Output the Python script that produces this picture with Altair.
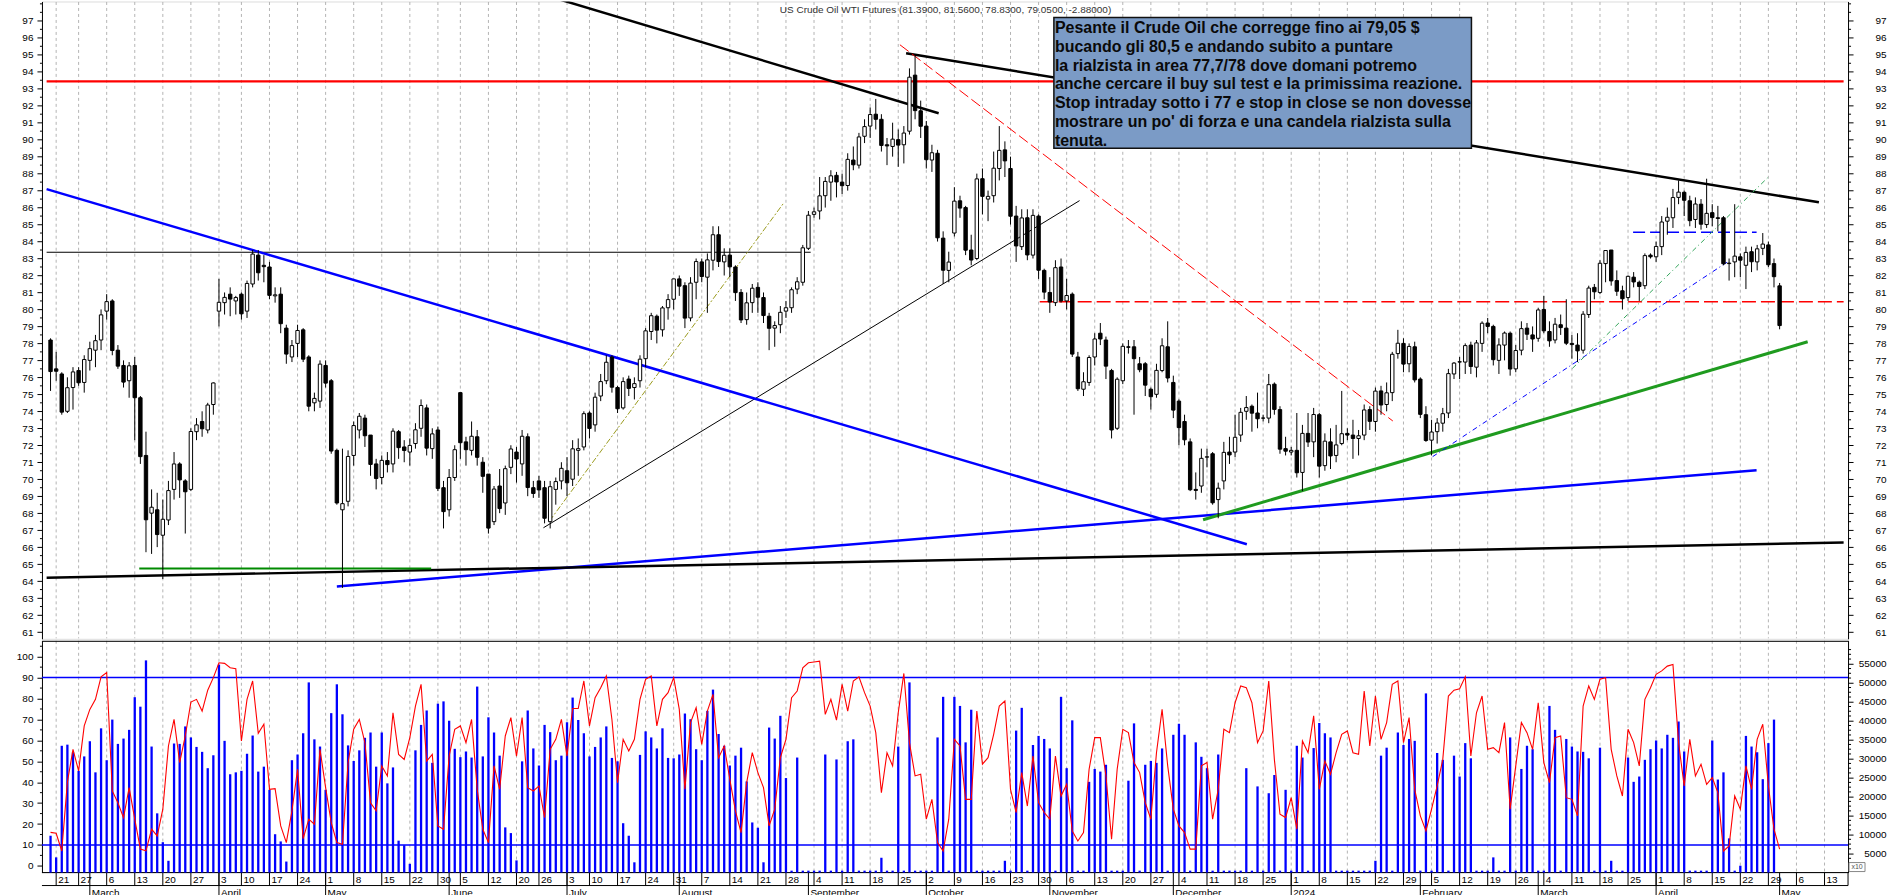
import altair as alt
import numpy as np
import pandas as pd

# ------------------------------------------------------------------
# Calendar: trading days shown by the chart (US holidays of 2023 skipped)
# ------------------------------------------------------------------
HOLIDAYS = ["2023-02-20", "2023-04-07", "2023-05-29", "2023-06-19", "2023-07-04"]
FIRST_DAY, AXIS_END_DAY = "2023-02-17", "2024-05-17"

# ------------------------------------------------------------------
# Daily candles (Feb 17 2023 -> May 1 2024)
# ------------------------------------------------------------------
opens = [
    78.2, 76.5, 76.2, 74.0, 75.4, 76.4, 75.7, 77.0, 77.6, 78.2,
    79.9, 80.5, 77.6, 76.7, 75.8, 76.7, 74.8, 71.4, 68.0, 68.2,
    66.7, 67.6, 69.4, 70.9, 69.9, 69.4, 72.8, 73.4, 72.9, 74.4,
    79.9, 80.4, 80.9, 80.5, 80.9, 79.9, 81.5, 83.2, 82.6, 82.5,
    80.8, 80.9, 78.9, 77.2, 78.0, 78.8, 77.2, 74.5, 74.6, 76.7,
    75.8, 71.7, 68.2, 68.7, 71.4, 72.9, 73.6, 72.6, 70.9, 70.1,
    71.1, 70.9, 72.8, 71.9, 71.6, 72.1, 73.0, 74.2, 71.8, 72.9,
    69.5, 68.2, 70.1, 75.1, 72.2, 71.7, 72.5, 71.0, 70.3, 67.5,
    69.6, 68.6, 70.7, 71.6, 70.9, 72.5, 69.5, 69.9, 69.5, 67.5,
    69.4, 69.9, 70.5, 70.0, 71.7, 71.9, 73.9, 73.2, 74.9, 75.8,
    77.2, 75.4, 74.2, 75.9, 75.4, 75.8, 77.1, 78.7, 79.6, 78.8,
    80.1, 80.6, 81.8, 81.4, 79.5, 81.6, 82.8, 81.9, 82.9, 84.4,
    82.8, 83.2, 82.5, 81.0, 79.4, 80.4, 81.3, 80.7, 79.6, 78.9,
    79.1, 79.9, 80.1, 81.2, 81.6, 83.6, 85.6, 85.8, 86.7, 87.5,
    87.9, 87.5, 87.3, 88.8, 88.5, 90.2, 90.8, 91.5, 91.2, 89.7,
    89.6, 90.0, 89.7, 90.5, 93.8, 91.7, 90.8, 88.8, 89.2, 84.2,
    82.3, 84.5, 86.4, 86.0, 83.5, 83.0, 87.7, 86.5, 86.7, 88.3,
    89.4, 88.3, 85.5, 83.7, 85.4, 83.2, 85.5, 82.3, 81.0, 80.4,
    82.5, 80.5, 80.9, 77.2, 75.3, 75.7, 77.2, 78.6, 78.2, 76.4,
    73.0, 75.8, 77.8, 77.8, 76.8, 76.8, 75.3, 75.0, 76.4, 77.8,
    75.7, 74.6, 73.4, 72.2, 69.4, 69.6, 71.3, 71.5, 68.8, 69.9,
    71.6, 71.6, 72.6, 74.0, 74.3, 73.9, 73.6, 73.6, 75.6, 74.1,
    71.8, 71.6, 71.7, 70.4, 72.7, 72.2, 73.8, 70.8, 72.2, 71.4,
    72.1, 72.7, 72.6, 72.4, 72.6, 74.1, 73.4, 75.2, 74.4, 75.1,
    77.4, 78.0, 76.8, 77.8, 75.9, 73.8, 72.3, 72.8, 73.3, 73.9,
    76.2, 76.9, 76.9, 77.9, 76.6, 78.0, 79.2, 79.0, 77.0, 77.9,
    78.6, 76.5, 77.6, 78.9, 78.5, 78.3, 80.0, 78.7, 78.2, 79.1,
    78.9, 78.0, 77.9, 77.6, 79.7, 81.3, 81.0, 82.7, 83.5, 81.7,
    81.1, 80.7, 81.9, 81.6, 81.4, 83.2, 83.1, 83.7, 85.2, 85.4,
    86.6, 86.9, 86.4, 85.3, 86.2, 85.0, 85.7, 85.4, 85.4, 82.7,
    82.8, 83.1, 82.6, 83.4, 82.8, 83.6, 83.8, 82.7, 81.39,
]
highs = [
    78.3, 77.5, 76.3, 76.0, 76.6, 76.6, 77.3, 78.1, 78.5, 80.0,
    80.9, 80.6, 77.9, 77.0, 76.9, 77.2, 74.9, 72.8, 69.4, 69.2,
    68.8, 69.9, 71.6, 71.0, 70.0, 73.0, 73.6, 74.0, 74.5, 75.7,
    81.8, 81.0, 81.3, 80.8, 81.0, 81.7, 83.5, 83.5, 83.2, 82.8,
    81.3, 81.3, 79.1, 78.2, 79.1, 78.9, 77.3, 75.1, 77.0, 77.0,
    75.9, 71.8, 71.8, 71.7, 73.4, 73.9, 73.8, 72.6, 71.2, 71.4,
    71.6, 73.0, 72.9, 72.3, 72.4, 73.3, 74.7, 74.4, 73.0, 73.1,
    69.9, 70.6, 72.0, 75.1, 72.5, 73.4, 72.9, 71.3, 70.3, 69.6,
    70.6, 70.8, 72.0, 71.9, 72.9, 72.7, 69.9, 70.2, 69.9, 69.9,
    70.1, 71.0, 71.3, 72.3, 72.4, 74.0, 74.0, 75.1, 76.2, 77.3,
    77.3, 75.5, 76.0, 76.1, 76.0, 77.3, 78.9, 79.8, 79.7, 80.2,
    80.9, 81.8, 82.0, 81.6, 81.9, 83.0, 83.0, 83.3, 84.9, 84.9,
    83.6, 83.6, 82.6, 81.2, 81.0, 81.5, 81.6, 81.0, 79.8, 79.3,
    80.2, 80.5, 81.3, 81.9, 83.8, 85.8, 86.0, 87.8, 87.8, 88.2,
    88.1, 88.0, 89.2, 89.6, 90.4, 91.2, 91.9, 92.4, 91.5, 90.1,
    91.0, 90.6, 90.8, 94.2, 95.03, 92.3, 91.1, 89.7, 89.4, 84.6,
    83.4, 87.2, 86.7, 86.1, 84.4, 88.0, 88.3, 87.0, 89.3, 90.8,
    89.9, 89.0, 86.1, 85.9, 85.9, 85.9, 85.6, 82.4, 81.9, 82.9,
    83.0, 81.8, 81.0, 77.5, 76.3, 77.3, 78.6, 79.2, 78.4, 76.5,
    76.0, 78.0, 78.2, 78.2, 77.2, 76.9, 75.4, 76.8, 78.3, 79.3,
    76.1, 74.7, 73.8, 72.4, 70.4, 71.8, 71.8, 71.6, 69.8, 72.2,
    72.5, 73.8, 74.2, 74.9, 74.4, 75.1, 73.8, 76.2, 75.7, 74.3,
    72.5, 71.9, 73.9, 73.2, 73.9, 74.2, 73.9, 72.7, 73.0, 73.2,
    75.2, 73.0, 73.5, 72.9, 74.4, 74.3, 75.4, 75.5, 75.7, 77.5,
    78.8, 78.3, 78.0, 78.1, 76.0, 74.3, 73.5, 73.6, 74.2, 76.5,
    76.9, 77.2, 78.0, 78.1, 78.2, 79.3, 79.5, 79.1, 78.3, 78.7,
    78.7, 77.9, 79.3, 79.2, 79.0, 80.1, 80.8, 79.3, 79.5, 79.7,
    80.6, 78.5, 78.6, 79.9, 81.4, 81.5, 82.9, 83.5, 83.5, 82.3,
    81.4, 82.0, 82.2, 81.7, 83.3, 83.3, 84.0, 85.5, 86.0, 87.1,
    87.6, 87.0, 86.7, 86.6, 86.5, 87.7, 86.2, 86.1, 85.5, 83.0,
    86.2, 83.3, 83.7, 83.7, 83.8, 84.5, 84.0, 83.0, 81.56,
]
lows = [
    75.2, 75.8, 73.8, 73.9, 74.1, 75.5, 75.1, 76.4, 76.6, 77.6,
    79.4, 77.3, 76.5, 75.4, 74.8, 72.3, 70.9, 65.7, 65.6, 66.0,
    64.12, 67.3, 68.8, 68.9, 66.8, 69.3, 72.3, 72.5, 72.7, 73.8,
    79.0, 79.7, 79.6, 79.7, 79.4, 79.5, 81.3, 81.7, 81.6, 80.6,
    80.4, 78.6, 76.8, 76.9, 77.2, 76.9, 74.0, 74.0, 74.2, 75.4,
    71.5, 68.5, 63.6, 68.4, 70.8, 72.4, 71.9, 70.2, 69.4, 69.7,
    70.4, 70.4, 71.2, 71.0, 70.8, 71.8, 72.5, 71.4, 71.2, 69.3,
    67.1, 67.8, 69.9, 71.2, 70.8, 71.4, 70.8, 69.2, 66.8, 67.3,
    68.0, 67.9, 70.3, 69.8, 70.2, 69.0, 68.9, 68.9, 67.4, 67.1,
    68.5, 69.4, 69.0, 69.6, 70.2, 71.7, 72.4, 72.8, 74.6, 75.6,
    75.1, 73.9, 74.1, 74.9, 74.7, 75.4, 76.6, 78.2, 78.0, 78.4,
    79.4, 80.0, 80.8, 78.9, 79.3, 80.6, 81.6, 79.8, 82.3, 82.5,
    82.0, 81.9, 80.5, 79.2, 79.1, 79.8, 79.8, 79.2, 77.6, 77.8,
    78.6, 79.5, 79.8, 80.9, 81.4, 83.5, 85.4, 85.3, 86.0, 86.4,
    86.6, 86.8, 87.0, 88.2, 88.3, 89.8, 90.1, 90.6, 89.3, 88.5,
    89.0, 88.4, 88.6, 90.3, 91.2, 90.1, 88.3, 88.1, 84.0, 81.5,
    81.6, 84.3, 85.4, 83.2, 82.6, 82.9, 85.6, 85.2, 86.3, 87.6,
    87.8, 85.0, 82.8, 83.5, 82.9, 83.0, 81.8, 80.6, 79.8, 80.2,
    80.4, 80.0, 77.2, 75.2, 74.9, 75.5, 76.7, 77.9, 75.9, 72.4,
    72.9, 75.6, 77.4, 73.8, 76.3, 74.9, 74.1, 74.8, 76.3, 75.7,
    73.6, 72.0, 72.0, 69.3, 68.8, 69.2, 70.7, 68.5, 67.7, 69.4,
    70.9, 71.3, 72.2, 73.5, 72.8, 73.0, 73.4, 73.3, 73.8, 71.5,
    71.4, 71.4, 70.1, 69.3, 71.9, 71.3, 70.1, 70.5, 70.6, 71.0,
    72.0, 72.3, 71.2, 71.4, 72.3, 72.9, 72.8, 73.8, 74.0, 74.6,
    77.1, 76.3, 76.3, 75.7, 73.6, 72.2, 71.4, 72.1, 72.8, 73.6,
    75.9, 75.9, 76.2, 76.2, 76.0, 77.5, 78.6, 76.7, 76.2, 77.0,
    76.1, 76.3, 77.3, 78.2, 77.5, 78.1, 78.6, 77.8, 78.0, 78.5,
    77.9, 77.1, 76.9, 77.4, 79.5, 80.6, 80.9, 81.6, 81.4, 80.8,
    80.0, 80.5, 81.3, 80.5, 81.2, 83.0, 82.8, 83.2, 84.4, 84.8,
    86.2, 85.5, 84.9, 84.8, 84.7, 84.8, 84.9, 84.6, 82.6, 81.7,
    81.9, 81.9, 81.2, 82.2, 82.3, 83.2, 82.5, 81.3, 78.83,
]
closes = [
    76.34, 76.36, 73.95, 75.39, 76.32, 75.68, 77.05, 77.69, 78.16, 79.68,
    80.46, 77.58, 76.66, 75.72, 76.68, 74.80, 71.33, 67.61, 68.35, 66.74,
    67.64, 69.33, 70.90, 69.96, 69.26, 72.81, 73.20, 72.97, 74.37, 75.67,
    80.42, 80.71, 80.61, 80.70, 79.74, 81.53, 83.26, 82.16, 82.52, 80.83,
    80.86, 79.16, 77.37, 77.87, 78.76, 77.07, 74.30, 74.76, 76.78, 75.66,
    71.66, 68.60, 68.56, 71.34, 73.16, 73.71, 72.56, 70.87, 70.04, 71.11,
    70.86, 72.83, 71.86, 71.69, 71.99, 72.91, 74.34, 71.83, 72.67, 69.46,
    68.09, 70.10, 71.74, 72.15, 71.74, 72.53, 71.29, 70.17, 67.12, 69.42,
    68.27, 70.62, 71.78, 71.19, 72.53, 69.51, 69.16, 69.37, 67.70, 69.56,
    69.86, 70.64, 69.79, 71.79, 71.80, 73.86, 72.99, 74.83, 75.75, 76.89,
    75.42, 74.15, 75.75, 75.35, 75.63, 77.07, 78.74, 79.63, 78.78, 80.09,
    80.58, 81.80, 81.37, 79.49, 81.55, 82.82, 81.94, 82.92, 84.40, 82.82,
    83.19, 82.51, 80.99, 79.38, 80.39, 81.25, 80.72, 79.64, 78.89, 79.05,
    79.83, 80.10, 81.16, 81.63, 83.63, 85.55, 85.75, 86.69, 87.54, 87.87,
    87.51, 87.29, 88.84, 88.52, 90.16, 90.77, 91.48, 91.20, 89.66, 89.63,
    90.03, 89.68, 90.39, 93.68, 91.71, 90.79, 88.82, 89.23, 84.22, 82.31,
    82.79, 86.38, 85.97, 83.49, 82.91, 87.69, 86.66, 86.66, 88.32, 89.37,
    88.75, 85.49, 83.74, 85.39, 83.21, 85.54, 82.31, 81.02, 80.44, 82.46,
    80.51, 80.82, 77.37, 75.33, 75.74, 77.17, 78.26, 78.26, 76.66, 72.90,
    75.89, 77.83, 77.77, 77.10, 76.45, 75.54, 74.86, 76.41, 77.86, 75.96,
    74.07, 73.04, 72.32, 69.38, 69.34, 71.23, 71.32, 68.61, 69.47, 71.58,
    71.43, 72.47, 73.94, 74.22, 73.89, 73.56, 73.60, 75.57, 74.11, 71.77,
    71.65, 71.70, 70.38, 72.70, 72.19, 73.81, 70.77, 72.24, 71.37, 72.02,
    72.68, 72.60, 72.40, 72.56, 74.08, 73.41, 75.19, 74.37, 75.09, 77.36,
    78.01, 76.78, 77.82, 75.85, 73.82, 72.28, 72.78, 73.31, 73.86, 76.22,
    76.84, 76.92, 77.87, 76.64, 78.03, 79.19, 79.00, 77.04, 77.91, 78.61,
    76.49, 77.58, 78.87, 78.54, 78.26, 79.97, 78.74, 78.15, 79.13, 78.93,
    78.01, 77.93, 77.56, 79.72, 81.26, 81.04, 82.72, 83.47, 81.68, 81.07,
    80.63, 81.95, 81.62, 81.35, 83.17, 83.10, 83.71, 85.15, 85.43, 86.59,
    86.91, 86.43, 85.23, 86.21, 85.02, 85.66, 85.41, 85.36, 82.69, 82.73,
    83.14, 82.90, 83.36, 82.81, 83.57, 83.85, 82.63, 81.93, 79.05,
]

# Oscillator (red line, left 0-100 scale of the lower panel)
osc = [
    16, 15.6, 7.1, 40, 55.7, 45.4, 66.9, 74.8, 79.6, 90.4,
    92.4, 35.8, 30.2, 23, 37.4, 22.3, 8, 7.2, 17.5, 14.3,
    27.1, 57.3, 70, 49.4, 62.1, 78.3, 79.6, 74, 84, 90,
    97.1, 96.8, 94.7, 94.3, 59.7, 79.6, 88.4, 63.4, 67.7, 36.6,
    36.9, 19.1, 11.1, 26.3, 46.2, 13.0, 22.3, 19.9, 55.7, 37.4,
    20.7, 11.1, 10.3, 49.4, 65.3, 70, 58.9, 30.2, 26.3, 47.8,
    43, 73.2, 53.3, 50.9, 61.3, 76.4, 86.8, 50.1, 53.3, 19.1,
    17.5, 52.5, 65.3, 66.9, 58.9, 70, 36.6, 17.5, 11.1, 47.8,
    36.6, 62.1, 70.9, 52.5, 70.9, 37.4, 35.8, 38.2, 23.1, 55.7,
    60.5, 70, 52.5, 75.2, 75.2, 88.4, 66.9, 80.4, 85.2, 90.8,
    70, 39.8,
    60.5, 54.9, 60.5, 79.6, 89.2, 90.8, 66.9, 79.6, 82.8, 90,
    74.8, 36.6, 68.5, 75.6, 58.1, 74, 82, 51.7, 57.3, 41.4,
    26.3, 15.9, 39.8, 54.1, 44.6, 37.4, 19.1, 27.1, 51.7, 60.5,
    80.4, 83.6, 94.7, 97.1, 97.5, 97.9,
    72.4, 79.6, 69.7, 86.8, 74, 88.4, 90.4, 82.8, 76.4, 63.7,
    35, 54.1, 47.8, 73.2, 92, 58.9, 43, 43.8, 22.3, 31.8,
    11.1, 7.1, 22.3, 60.5, 57.3, 31.8, 31.8, 74, 48.6, 51.7,
    62.9, 76.4, 78.8, 36.6, 25.5, 44.6, 28.6, 52.5, 30.2, 25.5,
    22.3, 52.5, 33.4, 39, 16.7, 11.9, 15.9, 46.2, 61.3, 61.3,
    43, 12.7, 46.2, 65.3, 63.7, 49.4, 44.6, 30.2, 22.3, 54.1,
    74.8, 47.8, 27.1, 19.1, 15.9, 8, 8, 47.8, 49.4, 22.3,
    36.6, 65.3, 63.7, 78, 86,
    85.2, 78, 58.9, 64.5, 88.4, 50.9, 24.7, 23.1, 32.6, 17.5,
    59.7, 54.1, 71.7, 36.6, 50.1, 43.8, 54.1, 62.9, 64.5, 54.1,
    53.3, 83.6, 57.3, 81.2, 60.5, 68.5, 86.8, 88.4, 58.9, 70.9,
    36.6, 23.9, 16.7, 27.1, 38.2, 50.9, 81.2, 84, 84.7, 90.4,
    52.5, 73.2, 81.2, 55.7, 56.5, 54.1, 68.5, 27.1, 47.8, 68.5,
    63.7, 55.7, 78, 49.4, 39.8, 61.3, 62.1, 32.6, 31.8, 23.9,
    76.4, 86, 79.6, 89.2, 90, 55.7, 43, 33.4, 65.3, 58.9,
    47.8, 79.6, 85.2, 91.6, 93.2, 95.5, 96.3, 58.9, 38.2, 60.5,
    43, 48.6, 39, 42.2, 35, 7.1, 9.5, 33.4, 27.1, 47.8,
    36.6, 60.5, 67.7, 38.2, 17.5, 8,
]

# Volume bars (right scale of the lower panel); S = the tiny stubs
S = 500
volume = [
    9700, 4000, 33400, 33700, 31700, 26800, 30600, 34600, 26400, 38000,
    29600, 40300, 33900, 35300, 37600, 46200, 43700, 55900, 33200, 15600,
    8000, 3100, 34000, 33900, 38500, 35600, 33100, 31800, 27500, 30900,
    54800, 34700, 25900, 26400, 26800, 31300, 36100, 26600, 27900, 21800,
    10100, 8200, 2900, 29600, 31100, 36700, 50100, 35100, 33200, 21800,
    42000, 49600, 41700, 33500, 29400, 32200, 35500, 36900, 27900, 36900,
    23500, 27700, 8400, 7200, 2300, 32200, 38900, 42700, 28900, 44500,
    45100, 40000, 32600, 30400, 31900, 30300, 49000, 30600, 40900, 36900,
    30800, 11900, 10400, 3200, 29300, 42700, 32700, 28200, 38900, 37000,
    29600, 30800, 39600, 46100, 40200, 36700, 30600, 33100, 35600, 38500,
    30200, 29300, 13000,
    9700, 2700, 31000, 37200, 35600, 32700, 38000, 30200, 30100, 31100,
    41900, 40400, 32500, 29600, 42600, 48200, 36500, 33400, 28200, 30800,
    32900, 24000, 13200, 11800, 2700, 38200, 35300, 41300, 24900, S,
    30300, S, S, S, S, 31100, S, 29800, S, 34600,
    35100, S, S, S, S, 3900, S, S, 33200, S,
    50100, S, S, S, S, 35600, 46300, S, 46300, 43900,
    34300, 42900, S, S, S, S, S, 3100, S, 37400,
    43400, S, 33600, 36000, 35200, 32700, S, 46300, 27500, 40100,
    S, S, 23900, 27300, 26600, 28400, S, S, S, 24200,
    39300, S, 28400, 29400, 28900, 32700, S, 36300, 39200, 36300,
    S, 34300, 30500, 27500, S, 31100, S, S, S, S,
    27500, S, 22700, S, 20900, 25700, S, 21800, S, 33400,
    30300, S, 32800, 39400, 36700, 35600, S, S, S, S,
    S, S, S, 3100, 30800, 32900, S, 36900, 33600, 35200,
    34700, S, 47200, S, 31500, 29700, S, 30800, 25300, 34100,
    30100, S, S, S, 4000, S, S, 35600, S, 27300,
    33400, 32500, S, S, 43900, 37600, S, 35200, 33200, 31900,
    31800, 30100, S, 32900, S, 3100, S, S, 30300, 23900,
    25300, 29700, 32500, 34800, 32700, 36300, 35500, 39800, 31900, S,
    S, S, S, 34800, 24500, 26400, 9000, S, 1800, 36000,
    33200, 31700, 24600, 34100, 40300, 0,
]

# Drawn studies: (idx1, price1, idx2, price2)
TREND_PTS = [
    (-0.7, 93.43, 319.4, 93.43),
    (85.0, 98.82, 158.2, 91.56),
    (152.4, 95.09, 315.0, 86.31),
    (-0.7, 83.37, 135.4, 83.37),
    (87.8, 67.14, 183.3, 86.41),
    (88.9, 67.55, 130.6, 86.27),
    (-0.7, 87.09, 213.1, 66.17),
    (51.0, 63.68, 303.9, 70.53),
    (-0.7, 64.20, 319.4, 66.27),
    (15.8, 64.74, 67.8, 64.74),
    (205.3, 67.61, 313.0, 78.10),
    (151.3, 95.59, 239.1, 73.43),
    (176.2, 80.45, 319.4, 80.45),
    (281.9, 84.55, 303.9, 84.55),
    (246.2, 71.33, 298.9, 82.84),
    (271.1, 76.53, 306.0, 87.80),
]
TREND_STYLE = [
    ("#ff0000", 2.2, None),
    ("#000000", 2.5, None),
    ("#000000", 2.5, None),
    ("#000000", 1.2, None),
    ("#000000", 1.0, None),
    ("#9b9b1e", 1.0, [6, 2, 2, 2]),
    ("#0000ff", 2.5, None),
    ("#0000ff", 2.5, None),
    ("#000000", 2.5, None),
    ("#008a00", 2.2, None),
    ("#1f9b1f", 3.0, None),
    ("#ff0000", 1.0, [11, 4]),
    ("#ff0000", 1.5, [14, 5]),
    ("#0000ff", 1.5, [12, 5]),
    ("#0000ff", 1.0, [5, 3, 1, 3]),
    ("#33a55a", 1.0, [5, 3, 1, 3]),
]
OSC_LEVELS = [90, 10]

TITLE = "US Crude Oil WTI Futures (81.3900, 81.5600, 78.8300, 79.0500, -2.88000)"
NOTE = ("Pesante il Crude Oil che corregge fino ai 79,05 $\n"
        "bucando gli 80,5 e andando subito a puntare\n"
        "la rialzista in area 77,7/78 dove domani potremo\n"
        "anche cercare il buy sul test e la primissima reazione.\n"
        "Stop intraday sotto i 77 e stop in close se non dovesse\n"
        "mostrare un po' di forza e una candela rialzista sulla\n"
        "tenuta.")

N = len(closes)
assert len(opens) == N == len(highs) == len(lows) == len(osc) == len(volume) == 309, (
    len(opens), len(highs), len(lows), len(closes), len(osc), len(volume))

# ------------------------------------------------------------------
# Layout constants
# ------------------------------------------------------------------
W, H1, H2 = 1808, 638, 232
FONT = "Liberation Sans"
XDOM = [-0.64, 319.3]
PDOM = [60.6, 98.14]
ODOM = [-3.2, 107.6]
VDOM = [0, 61060]


def sc(dom):
    return alt.Scale(domain=dom, nice=False, zero=False)


# calendar-derived tick positions
days = pd.bdate_range(FIRST_DAY, AXIS_END_DAY)
days = days[~days.isin(pd.to_datetime(HOLIDAYS))]
cal = pd.DataFrame({"date": days, "idx": np.arange(len(days))})
cal["week"] = cal["date"] - pd.to_timedelta(cal["date"].dt.weekday, unit="D")
wk = cal.groupby("week", as_index=False).first()
wk = wk[(wk["idx"] > 0) & (wk["idx"] <= 319)]
weeks = pd.DataFrame({"idx": wk["idx"].values,
                      "lbl": wk["date"].dt.day.astype(str).values})
cal["ym"] = cal["date"].dt.year * 100 + cal["date"].dt.month
mo = cal.groupby("ym", as_index=False).first()
mo = mo[(mo["idx"] > 0) & (mo["idx"] <= 319)]
months = pd.DataFrame({
    "idx": mo["idx"].values,
    "lbl": [str(d.year) if d.month == 1 else d.strftime("%B") for d in mo["date"]],
})

cdf = pd.DataFrame({"idx": np.arange(N), "open": opens, "high": highs,
                    "low": lows, "close": closes, "osc": osc, "vol": volume})
one = pd.DataFrame({"a": [0]})


def xq(field="idx"):
    return alt.X(f"{field}:Q", scale=sc(XDOM), axis=None)


def yq(field, dom, axis=None):
    return alt.Y(f"{field}:Q", scale=sc(dom), axis=axis)


axis_common = dict(title=None, grid=False, labelFont=FONT, labelFontSize=10,
                   labelColor="black", domainColor="black", tickColor="black",
                   tickSize=5, labelOverlap=False, labelFlush=False,
                   minExtent=41, maxExtent=41, domainWidth=1, tickWidth=1)
left_price_axis = alt.Axis(orient="left", values=list(range(61, 98)),
                           labelPadding=4, labelAlign="right", **axis_common)
right_price_axis = alt.Axis(orient="right", values=list(range(61, 98)),
                            labelPadding=33, labelAlign="right", **axis_common)
left_osc_axis = alt.Axis(orient="left", values=list(range(0, 101, 10)),
                         labelPadding=4, labelAlign="right", **axis_common)
right_vol_axis = alt.Axis(orient="right", values=list(range(5000, 55001, 5000)),
                          format="d", labelPadding=33, labelAlign="right",
                          **axis_common)

# ------------------------------------------------------------------
# Price panel (flat layer, each layer with its own identical y scale)
# ------------------------------------------------------------------
grid1 = alt.Chart(weeks).mark_rule(color="#b4b4b4", strokeDash=[3, 3]).encode(
    x=xq(), y=alt.value(0.5), y2=alt.value(H1 - 0.5))

# invisible carriers for the two price axes
axis_df = pd.DataFrame({"v": [PDOM[0] + 1, PDOM[1] - 1]})
left_carrier = alt.Chart(axis_df).mark_point(opacity=0).encode(
    x=alt.value(0), y=yq("v", PDOM, left_price_axis))
right_carrier = alt.Chart(axis_df).mark_point(opacity=0).encode(
    x=alt.value(0), y=yq("v", PDOM, right_price_axis))

trend_layers = []
for (x1, y1, x2, y2), (col, sw, dash) in zip(TREND_PTS, TREND_STYLE):
    df = pd.DataFrame({"x": [x1, x2], "y": [y1, y2]})
    kw = dict(color=col, strokeWidth=sw, clip=True)
    if dash:
        kw["strokeDash"] = dash
    trend_layers.append(alt.Chart(df).mark_line(**kw).encode(
        x=xq("x"), y=yq("y", PDOM)))

wicks = alt.Chart(cdf).mark_rule(color="black", strokeWidth=1).encode(
    x=xq(), y=yq("low", PDOM), y2="high:Q")
bodies = alt.Chart(cdf).mark_bar(size=3.4, stroke="black", strokeWidth=1).encode(
    x=xq(), y=yq("open", PDOM), y2="close:Q",
    fill=alt.condition("datum.close >= datum.open", alt.value("white"), alt.value("black")))

minor_p = pd.DataFrame({"v": [v for v in np.arange(61, 98.01, 0.5)
                              if not (float(v).is_integer() and v <= 97)]})
minor_pl = alt.Chart(minor_p).mark_rule(color="black").encode(
    x=alt.value(-2), x2=alt.value(0), y=yq("v", PDOM))
minor_pr = alt.Chart(minor_p).mark_rule(color="black").encode(
    x=alt.value(W), x2=alt.value(W + 3), y=yq("v", PDOM))

box = alt.Chart(one).mark_rect(fill="#7b9bc6", stroke="#111111", strokeWidth=1.5).encode(
    x=alt.value(1013), x2=alt.value(1431), y=alt.value(16), y2=alt.value(147))
box_text = alt.Chart(one).mark_text(
    align="left", baseline="top", font=FONT, fontSize=16, fontWeight="bold",
    lineHeight=18.8, color="#0a0a0a", lineBreak="\n").encode(
    x=alt.value(1014), y=alt.value(18.6), text=alt.value(NOTE))
title = alt.Chart(one).mark_text(
    align="center", baseline="middle", font=FONT, fontSize=10, color="#333333").encode(
    x=alt.value(904.5), y=alt.value(9), text=alt.value(TITLE))

price = alt.layer(left_carrier, right_carrier, grid1, *trend_layers, wicks, bodies,
                  minor_pl, minor_pr, box, box_text, title).resolve_scale(
    y="independent").properties(width=W, height=H1)

# ------------------------------------------------------------------
# Lower panel (oscillator + volume) and date rows
# ------------------------------------------------------------------
osc_axis_df = pd.DataFrame({"v": [0, 100]})
vol_axis_df = pd.DataFrame({"v": [5000, 55000]})
osc_carrier = alt.Chart(osc_axis_df).mark_point(opacity=0).encode(
    x=alt.value(0), y=yq("v", ODOM, left_osc_axis))
vol_carrier = alt.Chart(vol_axis_df).mark_point(opacity=0).encode(
    x=alt.value(0), y=yq("v", VDOM, right_vol_axis))

grid2 = alt.Chart(weeks).mark_rule(color="#b4b4b4", strokeDash=[3, 3]).encode(
    x=xq(), y=alt.value(0), y2=alt.value(H2))
lv = alt.Chart(pd.DataFrame({"v": OSC_LEVELS})).mark_rule(color="#0000ff", strokeWidth=1.5).encode(
    x=alt.value(0), x2=alt.value(W), y=yq("v", ODOM))
minor_o = alt.Chart(pd.DataFrame({"v": list(range(5, 106, 10))})).mark_rule(color="black").encode(
    x=alt.value(-2), x2=alt.value(0), y=yq("v", ODOM))
top_border = alt.Chart(one).mark_rule(color="black").encode(
    x=alt.value(0), x2=alt.value(W + 1), y=alt.value(0.5))
row1 = alt.Chart(one).mark_rule(color="black").encode(
    x=alt.value(0), x2=alt.value(W), y=alt.value(H2))
row2 = alt.Chart(one).mark_rule(color="black").encode(
    x=alt.value(0), x2=alt.value(W), y=alt.value(H2 + 13))
row_end = alt.Chart(one).mark_rule(color="black").encode(
    x=alt.value(W), y=alt.value(H2), y2=alt.value(H2 + 13))
wk_ticks = alt.Chart(weeks).mark_rule(color="black").encode(
    x=xq(), y=alt.value(H2), y2=alt.value(H2 + 13))
wk_lbls = alt.Chart(weeks).mark_text(
    align="left", baseline="middle", font=FONT, fontSize=10, color="black", dx=2).encode(
    x=xq(), y=alt.value(H2 + 7), text="lbl:N")
mo_ticks = alt.Chart(months).mark_rule(color="black").encode(
    x=xq(), y=alt.value(H2), y2=alt.value(H2 + 25))
mo_lbls = alt.Chart(months).mark_text(
    align="left", baseline="middle", font=FONT, fontSize=10, color="black", dx=2).encode(
    x=xq(), y=alt.value(H2 + 20), text="lbl:N")
x10_box = alt.Chart(one).mark_rect(fill="white", stroke="#888888", strokeWidth=1).encode(
    x=alt.value(W + 1), x2=alt.value(W + 17), y=alt.value(H2 - 10), y2=alt.value(H2 - 1))
x10_txt = alt.Chart(one).mark_text(
    align="center", baseline="middle", font=FONT, fontSize=7, color="#555555").encode(
    x=alt.value(W + 9), y=alt.value(H2 - 5.5), text=alt.value("x10"))

vol_bars = alt.Chart(cdf).mark_bar(size=2.3, color="#0000ff").encode(
    x=xq(), y=yq("vol", VDOM))
minor_v = alt.Chart(pd.DataFrame({"v": [v for v in range(3750, 61001, 1250) if v % 5000]})).mark_rule(
    color="black").encode(x=alt.value(W), x2=alt.value(W + 3), y=yq("v", VDOM))
osc_line = alt.Chart(cdf).mark_line(color="#ff0000", strokeWidth=1.1).encode(
    x=xq(), y=yq("osc", ODOM))

lower = alt.layer(osc_carrier, vol_carrier, grid2, lv, minor_o, top_border, row1, row2,
                  row_end, wk_ticks, wk_lbls, mo_ticks, mo_lbls, vol_bars, minor_v,
                  x10_box, x10_txt, osc_line).resolve_scale(y="independent").properties(
    width=W, height=H2)

chart = alt.vconcat(price, lower, spacing=0).properties(padding=0).configure_view(
    stroke=None).configure(font=FONT, background="white")

chart.save("out.html", embed_options={"renderer": "svg", "actions": False})
